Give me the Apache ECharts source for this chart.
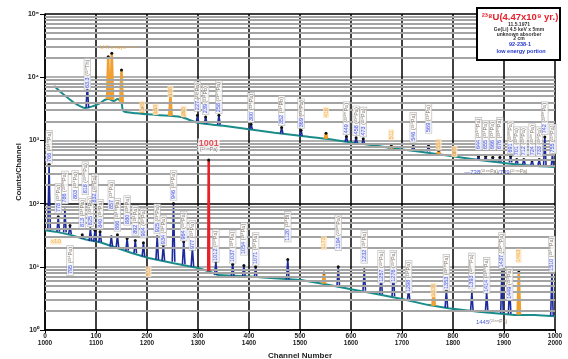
<!DOCTYPE html>
<html>
<head>
<meta charset="utf-8">
<script src="https://cdn.jsdelivr.net/npm/echarts@6/dist/echarts.min.js"></script>
<style>
  html, body { margin: 0; padding: 0; background: #fff; }
  #chart { width: 568px; height: 359px; }
</style>
</head>
<body>
<div id="chart"></div>
<script>
// upper trace = channels 0-1000, lower trace = channels 1000-2000 (x10)
const xTicks = [0, 100, 200, 300, 400, 500, 600, 700, 800, 900, 1000];
const yTicks = [1, 10, 100, 1000, 10000, 100000];

const upperBaseCh  = [18, 30, 45, 60, 79, 95, 108, 118, 125, 135, 142, 150, 154, 180, 220, 266, 300, 350, 400, 450, 500, 550, 600, 650, 700, 750, 800, 850, 900, 950, 1000];
const upperBaseVal = [7250, 5900, 4700, 3800, 3260, 3500, 3900, 4400, 4500, 4200, 4500, 3900, 2900, 2700, 2520, 2340, 1900, 1700, 1500, 1320, 1180, 1060, 930, 820, 720, 640, 560, 490, 440, 400, 380];

const lowerBaseCh  = [0, 20, 50, 80, 108, 140, 170, 203, 250, 300, 321, 340, 400, 450, 502, 550, 600, 640, 700, 750, 791, 850, 921, 960, 1000];
const lowerBaseVal = [38, 36, 32, 27, 24.5, 20, 16.5, 13.8, 11.5, 9.6, 8.5, 7.4, 7.0, 6.6, 6.2, 5.3, 4.4, 3.85, 3.1, 2.5, 2.2, 1.95, 1.73, 1.72, 1.65];

// peaks: [channel, top, base]
const upperPeaks = [[83, 7800, 3280], [299, 2500, 1900], [315, 2350, 1850], [341, 2500, 1760], [404, 1800, 1500], [464, 1600, 1280], [502, 1450, 1180], [591, 1150, 950], [610, 1100, 910], [624, 1060, 880], [722, 860, 705], [752, 850, 670], [850, 560, 490], [864, 560, 480], [878, 540, 470], [892, 540, 460], [913, 560, 450], [925, 500, 430], [939, 500, 420], [955, 480, 410], [969, 500, 400], [980, 1130, 390], [995, 600, 380]];
const upperOrangePeaks = [[124, 21000, 4500], [131, 24000, 4400], [150, 13000, 4000], [191, 3300, 2750], [217, 3100, 2550], [246, 5200, 2450], [272, 3000, 2330], [551, 1300, 1060], [679, 850, 740], [772, 700, 610], [803, 640, 555]];
const lowerPeaks = [[8, 420, 38], [26, 62, 36], [39, 79, 35], [49, 45, 33], [73, 32, 28], [89, 40, 25.5], [98, 38, 25], [108, 36, 24.5], [130, 30, 21], [142, 32, 20], [161, 28, 18], [177, 26, 16.5], [193, 24, 14.5], [220, 30, 13], [232, 22, 12.5], [252, 100, 12], [272, 25, 11], [289, 20, 10], [335, 12, 7.4], [368, 11, 7.2], [390, 10.5, 7.1], [413, 10, 6.9], [476, 13, 6.3], [575, 10, 5], [626, 9, 4.2], [659, 8, 3.7], [683, 9, 3.4], [713, 4.5, 2.9], [787, 4.3, 2.25], [837, 4.0, 2.0], [866, 4.0, 1.92], [896, 8.9, 1.85], [911, 5, 1.8], [994, 8, 1.68]];
const lowerOrangePeaks = [[547, 8, 5.4], [762, 4, 2.4], [929, 8.3, 1.75]];
const redPeak = [321, 490, 8.5];

// labels: [channel, value at label foot, energy, nuclide]
const upperLabels = [[83, 6500, '63.3', '(²³⁴Th)'], [299, 2900, '227', '(²³⁴Pa)'], [315, 2600, '239', '(²¹⁴Pb)'], [341, 2700, '258', '(²³⁴ᵐPa)'], [404, 1950, '300', '(²³⁴Pa)'], [464, 1750, '352', '(²¹⁴Pb)'], [502, 1560, '369', '(²³⁴Pa)'], [591, 1250, '449', '(²³⁴ᵐPa)'], [610, 1200, '458', '(²³⁴Pa)'], [624, 1150, '473', '(²³⁴Pa)'], [722, 950, '546', '(²³⁴Pa)'], [752, 1310, '569', '(²³⁴Pa)'], [850, 705, '644', '(²³⁴ᵐPa)'], [864, 705, '655', '(²³⁴Pa)'], [878, 705, '666', '(²³⁴Pa)'], [892, 705, '676', '(²³⁴ᵐPa)'], [913, 620, '691', '(²³⁴ᵐPa)'], [925, 560, '701', '(²³⁴Pa)'], [939, 560, '712', '(²³⁴Pa)'], [955, 560, '724', '(²³⁴ᵐPa)'], [969, 560, '733', '(²³⁴Pa)'], [980, 1250, '742', '(²³⁴ᵐPa)'], [996, 620, '755', '(²³⁴Pa)']];
const upperOrangeLabels = [[191, 2810, '145'], [217, 2520, '163'], [246, 4860, '186'], [272, 2340, '205'], [551, 2260, '416'], [679, 1010, '511'], [772, 705, '583'], [803, 546, '609']];
const lowerLabels = [[8, 440, '766', '(²³⁴ᵐPa)'], [26, 71, '778', '(²³⁴Pa)'], [39, 100, '786', '(²³⁴ᵐPa)'], [49, 7.4, '795', '(²³⁴Pa)'], [59, 114, '803', '(²³⁴Pa)'], [73, 41, '813', '(²³⁴Pa)'], [79, 140, '818', '(²³⁴ᵐPa)'], [89, 44, '825', '(²³⁴Pa)'], [98, 100, '832', '(²³⁴Pa)'], [108, 40, '840', '(²³⁴Pa)'], [130, 79, '857', '(²³⁴Pa)'], [142, 37, '866', '(²³⁴ᵐPa)'], [161, 46, '880', '(²³⁴Pa)'], [177, 32, '892', '(²³⁴Pa)'], [193, 29, '904', '(²³⁴Pa)'], [220, 34, '925', '(²³⁴Pa)'], [232, 22, '934', '(²³⁴Pa)'], [252, 114, '946', '(²³⁴Pa)'], [272, 26, '964', '(²³⁴Pa)'], [289, 18.4, '977', '(²³⁴Pa)'], [335, 12, '1012', '(²³⁴Pa)'], [368, 11.5, '1037', '(²³⁴Pa)'], [390, 15.4, '1054', '(²³⁴Pa)'], [413, 10.7, '1071', '(²³⁴Pa)'], [476, 25, '1120', '(²¹⁴Bi)'], [575, 18.4, '1194', '(²³⁴ᵐPa)'], [626, 11.5, '1232', '(²³⁴Pa)'], [659, 5.6, '1257', '(²³⁴Pa)'], [683, 5.6, '1276', '(²³⁴Pa)'], [713, 3.85, '1298', '(²³⁴Pa)'], [787, 4.3, '1353', '(²³⁴ᵐPa)'], [837, 4.5, '1393', '(²³⁴ᵐPa)'], [866, 3.85, '1414', '(²³⁴ᵐPa)'], [896, 9.5, '1437', '(²³⁴ᵐPa)'], [911, 3.0, '1449', '(²³⁴Pa)'], [994, 8.3, '1510', '(²³⁴ᵐPa)']];
const lowerOrangeLabels = [[203, 6.9, '911'], [547, 18.4, '1173'], [762, 3.3, '1336'], [929, 11.5, '1463']];

const sup = ['⁰', '¹', '²', '³', '⁴', '⁵'];
const FONT = 'Liberation Sans, Arial, sans-serif';

const minorLines = [];
for (let d = 1; d < 100000; d *= 10) {
    for (let k = 2; k <= 9; k++) minorLines.push({ yAxis: k * d });
}

function peakSeries(peaks, color, width) {
    return peaks.map(p => ({
        type: 'line',
        z: 4,
        silent: true,
        symbol: 'circle',
        symbolSize: 0,
        itemStyle: { color: '#111' },
        lineStyle: { color: color, width: width },
        data: [[p[0] - 2.5, p[2]], { value: [p[0], p[1]], symbolSize: 3 }, [p[0] + 2.5, p[2]]]
    }));
}

const blueLabel = {
    show: true,
    rotate: 90,
    position: 'top',
    distance: 0,
    align: 'left',
    verticalAlign: 'middle',
    fontFamily: FONT,
    fontSize: 5.5,
    backgroundColor: '#fff',
    borderColor: '#aaa',
    borderWidth: 0.6,
    padding: [0, 1],
    formatter: p => '{e|' + p.data.e + '} {n|' + p.data.n + '}',
    rich: {
        e: { color: '#2233cc', fontSize: 5.5, fontFamily: FONT, backgroundColor: '#e6e9ff' },
        n: { color: '#5e4e40', fontSize: 5.5, fontFamily: FONT }
    }
};
const orangeLabel = {
    show: true,
    rotate: 90,
    position: 'top',
    distance: 0,
    align: 'left',
    verticalAlign: 'middle',
    fontFamily: FONT,
    fontSize: 5.5,
    color: '#f09a20',
    backgroundColor: '#fde6c4',
    padding: [0, 1],
    formatter: p => p.data.e
};

const toLabelData = arr => arr.map(l => ({ value: [l[0], l[1]], e: l[2], n: l[3] }));

const chart = echarts.init(document.getElementById('chart'));

const option = {
    animation: false,
    grid: { left: 45, right: 13, top: 14, bottom: 29, outerBoundsMode: 'none' },
    xAxis: {
        type: 'value',
        min: 0,
        max: 1000,
        interval: 100,
        name: 'Channel Number',
        nameLocation: 'middle',
        nameGap: 20,
        nameTextStyle: { fontFamily: FONT, fontWeight: 'bold', fontSize: 8, color: '#222' },
        axisLine: { lineStyle: { color: '#000', width: 1.5 } },
        axisTick: { length: 3, lineStyle: { color: '#000' } },
        axisLabel: {
            fontFamily: FONT, fontWeight: 'bold', fontSize: 6.5, lineHeight: 7, color: '#222', margin: 3,
            formatter: v => v + '\n' + (v + 1000)
        },
        splitLine: { show: true, lineStyle: { color: '#000', width: 1.5 } }
    },
    yAxis: {
        type: 'log',
        logBase: 10,
        min: 1,
        max: 100000,
        name: 'Counts/Channel',
        nameLocation: 'middle',
        nameGap: 22,
        nameMoveOverlap: false,
        nameTextStyle: { fontFamily: FONT, fontWeight: 'bold', fontSize: 7.5, color: '#222' },
        axisLine: { show: true, lineStyle: { color: '#000', width: 1.5 } },
        axisTick: { show: true, length: 5, lineStyle: { color: '#000' } },
        axisLabel: {
            fontFamily: FONT, fontWeight: 'bold', fontSize: 7, color: '#222', margin: 6,
            formatter: v => '10' + sup[Math.round(Math.log10(v))]
        },
        splitLine: {
            show: true,
            lineStyle: { color: ['#000', '#999', '#000', '#999', '#999', '#000'], width: 1.5 }
        }
    },
    graphic: [
        { type: 'rect', shape: { x: 477, y: 8, width: 83, height: 52 }, style: { fill: '#fff', stroke: '#000', lineWidth: 2 }, z: 100 },
        { type: 'text', x: 520, y: 17, z: 101, style: { text: '²³⁸U(4.47x10⁹ yr.)', fill: '#e8202a', font: 'bold 9.5px ' + FONT, align: 'center', verticalAlign: 'middle' } },
        { type: 'text', x: 519, y: 25, z: 101, style: { text: '11.5.1971', fill: '#333', font: 'bold 5px ' + FONT, align: 'center', verticalAlign: 'middle' } },
        { type: 'text', x: 519, y: 30, z: 101, style: { text: 'Ge(Li) 4.5 keV x 5mm', fill: '#333', font: 'bold 5px ' + FONT, align: 'center', verticalAlign: 'middle' } },
        { type: 'text', x: 519, y: 34.5, z: 101, style: { text: 'unknown absorber', fill: '#333', font: 'bold 5px ' + FONT, align: 'center', verticalAlign: 'middle' } },
        { type: 'text', x: 519, y: 39, z: 101, style: { text: '2 cm', fill: '#333', font: 'bold 5px ' + FONT, align: 'center', verticalAlign: 'middle' } },
        { type: 'text', x: 520, y: 44.5, z: 101, style: { text: '92-238-1', fill: '#2233cc', font: 'bold 5.5px ' + FONT, align: 'center', verticalAlign: 'middle' } },
        { type: 'text', x: 521, y: 51, z: 101, style: { text: 'low energy portion', fill: '#2233cc', font: 'bold 5.5px ' + FONT, align: 'center', verticalAlign: 'middle' } }
    ],
    series: [
        {
            type: 'line',
            z: 1,
            silent: true,
            data: [],
            markLine: {
                silent: true,
                symbol: 'none',
                label: { show: false },
                lineStyle: { color: '#a4a4a4', width: 1.8, type: 'solid' },
                data: minorLines
            }
        },
        {
            type: 'line', z: 3, silent: true, symbol: 'none', smooth: 0.3,
            lineStyle: { color: '#1b8c8a', width: 2 },
            data: upperBaseCh.map((c, i) => [c, upperBaseVal[i]])
        },
        {
            type: 'line', z: 3, silent: true, symbol: 'none',
            lineStyle: { color: '#1b8c8a', width: 2 },
            data: lowerBaseCh.map((c, i) => [c, lowerBaseVal[i]])
        },
        ...peakSeries(upperPeaks, '#1c2a9c', 1.6),
        ...peakSeries(lowerPeaks, '#1c2a9c', 1.6),
        ...peakSeries(upperOrangePeaks, '#f0a030', 2.5),
        ...peakSeries(lowerOrangePeaks, '#f0a030', 2.5),
        {
            type: 'line', z: 5, silent: true, symbol: 'circle', symbolSize: 0,
            itemStyle: { color: '#111' },
            lineStyle: { color: '#e8202a', width: 2.5 },
            data: [[redPeak[0] - 1, redPeak[2]], { value: [redPeak[0], redPeak[1]], symbolSize: 3 }, [redPeak[0] + 1, redPeak[2]]]
        },
        { type: 'scatter', z: 6, silent: true, symbolSize: 0, label: blueLabel, data: toLabelData(upperLabels.concat(lowerLabels)) },
        { type: 'scatter', z: 6, silent: true, symbolSize: 0, label: orangeLabel, data: toLabelData(upperOrangeLabels.concat(lowerOrangeLabels)) },
        {
            type: 'scatter', z: 7, silent: true, symbolSize: 0,
            data: [
                { value: [redPeak[0], 620], label: { show: true, position: 'top', distance: 1, backgroundColor: '#fff', padding: [0, 1], formatter: '{a|1001}\n{b|(²³⁴ᵐPa)}', rich: { a: { color: '#e8202a', fontWeight: 'bold', fontSize: 9, fontFamily: FONT, align: 'center' }, b: { color: '#555', fontSize: 5, fontFamily: FONT, align: 'center' } } } },
                { value: [108, 30000], label: { show: true, position: 'right', distance: 0, color: '#f0a030', fontSize: 5.5, fontFamily: FONT, formatter: 'U K x-rays ——' } },
                { value: [822, 317], label: { show: true, position: 'right', distance: 0, formatter: '{a|—738}{b|(²³⁴ᵐPa)}{a|/739}{b|(²³⁴ᵐPa)}', rich: { a: { color: '#2233cc', fontSize: 6, fontFamily: FONT }, b: { color: '#6a5a4a', fontSize: 5, fontFamily: FONT } } } },
                { value: [845, 1.34], label: { show: true, position: 'right', distance: 0, formatter: '{a|1445}{b|(²³⁴ᵐPa)}', rich: { a: { color: '#2233cc', fontSize: 6, fontFamily: FONT }, b: { color: '#6a5a4a', fontSize: 5, fontFamily: FONT } } } },
                { value: [10, 25], label: { show: true, position: 'right', distance: 0, color: '#f0a030', backgroundColor: '#fde6c4', padding: [0, 1], fontSize: 6, fontFamily: FONT, formatter: 'x10' } }
            ]
        }
    ]
};

chart.setOption(option);
</script>
</body>
</html>
